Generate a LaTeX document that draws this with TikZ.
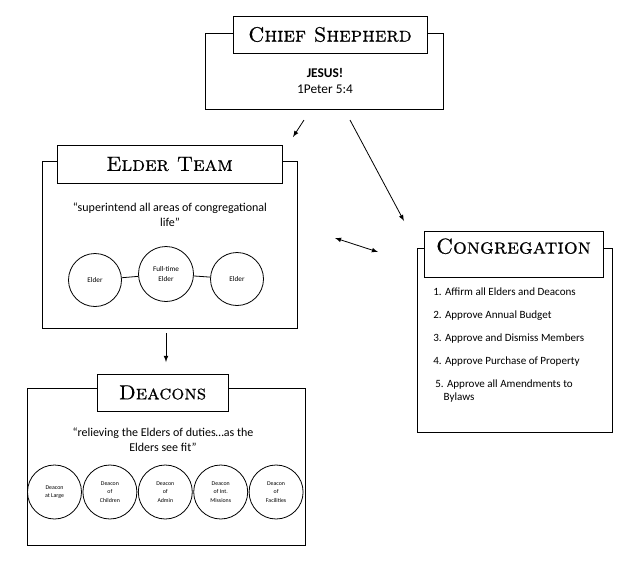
\documentclass[tikz,border=0pt]{standalone}
\usepackage{fontspec}
\newfontfamily\bodyfont{Carlito}
\newfontfamily\titlefont[FakeBold=0.6]{lmromancaps10-regular.otf}
\usetikzlibrary{arrows, positioning, calc}

\begin{document}
\begin{tikzpicture}[x=0.75pt, y=-0.75pt, >=latex,
    box/.style={draw, line width=0.75pt, inner sep=0pt},
    titlebox/.style={draw, line width=0.75pt, fill=white, inner sep=0pt, font=\titlefont\fontsize{15.5}{18}\selectfont},
    quote/.style={align=center, font=\bodyfont\fontsize{9}{11}\selectfont},
    ring/.style={draw, circle, line width=0.6pt, inner sep=0pt, align=center},
    elderring/.style={ring, font=\bodyfont\fontsize{5.4}{7.5}\selectfont},
    deaconring/.style={ring, minimum size=40.5pt, font=\bodyfont\fontsize{4.4}{6.4}\selectfont},
    listitem/.style={anchor=west, align=left, inner sep=0pt, font=\bodyfont\fontsize{8.3}{9.75}\selectfont},
    link/.style={->, line width=0.6pt}]
    \useasboundingbox (0,0) rectangle (643,565);

    % chief shepherd
    \node[box, minimum width=178.5pt, minimum height=57pt] (chief) at (324,71) {};
    \node[titlebox, minimum width=145.5pt, minimum height=27.75pt] (chieftitle) at (330,34.5) {Chief Shepherd};
    \node[align=center, font=\bodyfont\fontsize{10}{12.5}\selectfont] (jesus) at (325,81) {\textbf{JESUS!}\\1Peter 5:4};

    % elder team
    \node[box, minimum width=191.25pt, minimum height=125.25pt] (elders) at (169.5,244.5) {};
    \node[titlebox, minimum width=168.75pt, minimum height=28.5pt] (eldertitle) at (169.5,164) {Elder Team};
    \node[quote] (elderquote) at (170,214.5) {“superintend all areas of congregational\\life”};
    \node[elderring, minimum size=39.75pt] (e1) at (95,280) {Elder};
    \node[elderring, minimum size=41.25pt] (e2) at (166,274) {Full-time\\Elder};
    \node[elderring, minimum size=39.75pt] (e3) at (237,279) {Elder};
    \draw[line width=0.6pt] (e1) -- (e2) -- (e3);

    % deacons
    \node[box, minimum width=208.5pt, minimum height=117.75pt] (deacons) at (166,466.5) {};
    \node[titlebox, minimum width=98.25pt, minimum height=27.75pt, font=\titlefont\fontsize{15.3}{18}\selectfont] (deacontitle) at (162.5,392.5) {Deacons};
    \node[quote] (deaconquote) at (163,440) {“relieving the Elders of duties…as the\\Elders see fit”};
    \foreach \lbl [count=\i] in {{Deacon\\at Large}, {Deacon\\of\\Children}, {Deacon\\of\\Admin}, {Deacon\\of Int.\\Missions}, {Deacon\\of\\Facilities}}
      \node[deaconring] (d\i) at ({54.5+55.4*(\i-1)},492) {\lbl};

    % congregation
    \node[box, minimum width=146.25pt, minimum height=138pt] (cong) at (514.5,340) {};
    \node[titlebox, minimum width=134.25pt, minimum height=34.5pt, text depth=12pt, font=\titlefont\fontsize{16.2}{18}\selectfont] (congtitle) at (513.5,254) {Congregation};
    \foreach \t [count=\i] in {Affirm all Elders and Deacons, Approve Annual Budget, Approve and Dismiss Members, Approve Purchase of Property}
      \node[listitem] (item\i) at (433,{292+23.3*(\i-1)}) {\i. \t};
    \node[listitem] (item5) at (435,391.5) {5. Approve all Amendments to\\\phantom{5.}Bylaws};

    % arrows
    \coordinate (a1s) at (304,120);
    \coordinate (a1e) at (293,137);
    \coordinate (a2s) at (350,120);
    \coordinate (a2e) at (404,221);
    \coordinate (a3s) at (335,238);
    \coordinate (a3e) at (378,252);
    \coordinate (a4s) at (166,333);
    \coordinate (a4e) at (166,362);
    \draw[link] (a1s) -- (a1e);
    \draw[link] (a2s) -- (a2e);
    \draw[link, <->] (a3s) -- (a3e);
    \draw[link] (a4s) -- (a4e);
\end{tikzpicture}
\end{document}
